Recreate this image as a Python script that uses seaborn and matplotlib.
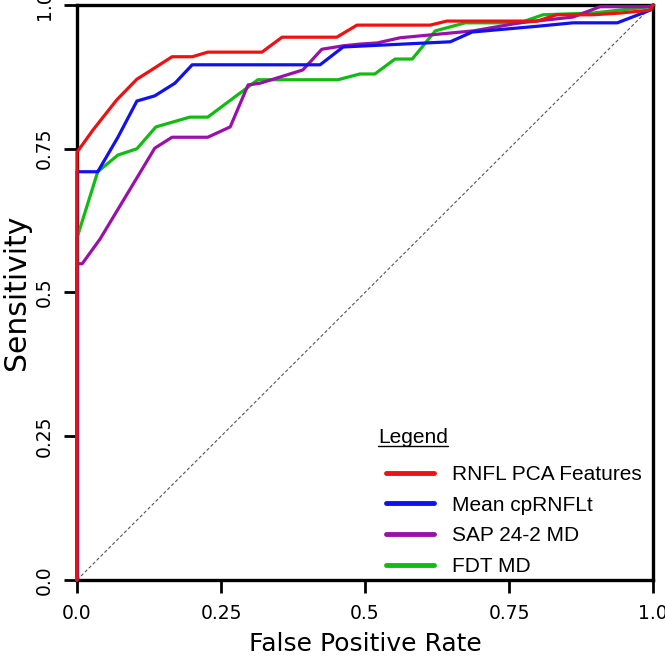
import matplotlib
matplotlib.use("Agg")
import matplotlib.pyplot as plt
import pandas as pd
import seaborn as sns
from matplotlib.lines import Line2D

# ROC curves (false positive rate, sensitivity)
rnfl_fpr = [0.0, 0.0, 0.028, 0.069, 0.104, 0.123, 0.165, 0.2, 0.227, 0.321, 0.356, 0.451,
            0.486, 0.613, 0.642, 0.799, 0.833, 0.896, 0.943, 0.995, 1.0]
rnfl_tpr = [0.0, 0.744, 0.783, 0.835, 0.871, 0.883, 0.910, 0.910, 0.918, 0.918, 0.944, 0.944,
            0.965, 0.965, 0.972, 0.972, 0.983, 0.983, 0.986, 0.991, 1.0]

mean_fpr = [0.0, 0.0, 0.036, 0.071, 0.104, 0.135, 0.170, 0.2, 0.422, 0.462, 0.648, 0.686,
            0.799, 0.861, 0.938, 0.995, 1.0]
mean_tpr = [0.0, 0.71, 0.71, 0.770, 0.833, 0.842, 0.864, 0.896, 0.896, 0.927, 0.936, 0.953,
            0.963, 0.969, 0.969, 0.991, 1.0]

sap_fpr = [0.0, 0.0, 0.009, 0.04, 0.135, 0.165, 0.227, 0.266, 0.297, 0.318, 0.392, 0.425,
           0.462, 0.491, 0.521, 0.561, 0.635, 0.688, 0.769, 0.861, 0.908, 0.995, 1.0]
sap_tpr = [0.0, 0.55, 0.55, 0.593, 0.751, 0.770, 0.770, 0.788, 0.861, 0.864, 0.887, 0.923,
           0.929, 0.932, 0.934, 0.943, 0.950, 0.955, 0.969, 0.979, 0.997, 0.997, 1.0]

fdt_fpr = [0.0, 0.0, 0.036, 0.071, 0.104, 0.137, 0.196, 0.227, 0.314, 0.453, 0.491, 0.517,
           0.552, 0.582, 0.622, 0.674, 0.769, 0.809, 0.896, 0.995, 1.0]
fdt_tpr = [0.0, 0.595, 0.71, 0.739, 0.75, 0.788, 0.805, 0.805, 0.870, 0.870, 0.880, 0.880,
           0.906, 0.906, 0.955, 0.969, 0.969, 0.983, 0.986, 0.997, 1.0]

labels = ["RNFL PCA Features", "Mean cpRNFLt", "SAP 24-2 MD", "FDT MD"]
colors = ["#ee1111", "#1111ee", "#9911aa", "#11bb11"]
tick_vals = [0, 0.25, 0.5, 0.75, 1.0]
tick_text = ["0.0", "0.25", "0.5", "0.75", "1.0"]

curves = [(rnfl_fpr, rnfl_tpr), (mean_fpr, mean_tpr), (sap_fpr, sap_tpr), (fdt_fpr, fdt_tpr)]
frames = []
for name, (fpr, tpr) in zip(labels, curves):
    frames.append(pd.DataFrame({"fpr": fpr, "tpr": tpr, "method": name}))
df = pd.concat(frames, ignore_index=True)

sns.set_style("white")
plt.rcParams["font.family"] = ["DejaVu Sans"]
plt.rcParams["text.color"] = "black"
plt.rcParams["axes.labelcolor"] = "black"
plt.rcParams["xtick.color"] = "black"
plt.rcParams["ytick.color"] = "black"

fig = plt.figure(figsize=(6.65, 6.57), dpi=100)
ax = fig.add_axes([0.1158, 0.1172, 0.8662, 0.8752])

# chance line
ax.plot([0, 1], [0, 1], linestyle=(0, (3, 2)), color="#555555", linewidth=0.8, zorder=1)

# draw in reverse so red ends up on top
sns.lineplot(data=df, x="fpr", y="tpr", hue="method", hue_order=labels[::-1],
             palette=dict(zip(labels, colors)), estimator=None, sort=False,
             linewidth=2.3, ax=ax, legend=False, zorder=3)
for line in ax.get_lines()[1:]:
    line.set_clip_on(False)

ax.set_xlim(0, 1)
ax.set_ylim(0, 1)
ax.set_xticks(tick_vals)
ax.set_yticks(tick_vals)
ax.set_xticklabels(tick_text, fontsize=13.5)
ax.set_yticklabels(tick_text, fontsize=13.5, rotation=90, va="center")
ax.tick_params(direction="out", length=9.5, width=2, pad=8, bottom=True, left=True)
ax.tick_params(axis="y", pad=7)
for sp in ax.spines.values():
    sp.set_linewidth(2.4)
    sp.set_color("black")

ax.set_xlabel("False Positive Rate", fontsize=18, labelpad=6.5)
ax.set_ylabel("Sensitivity", fontsize=21.5, labelpad=3)

# legend entries without a frame, title drawn separately so it can be underlined
handles = [Line2D([0], [0], color=c, linewidth=3.5) for c in colors]
leg = ax.legend(handles, labels, loc="upper left",
                bbox_to_anchor=((386 - 77) / 576, (580 - 465) / 575),
                frameon=False, handlelength=2.3, labelspacing=0.56,
                handletextpad=0.85, borderpad=0, borderaxespad=0,
                prop={"family": "Liberation Sans", "size": 15})

title = ax.text((378 - 77) / 576, (580 - 443) / 575, "Legend", transform=ax.transAxes,
                ha="left", va="baseline", fontsize=15, family="Liberation Sans")

fig.canvas.draw()
bb = title.get_window_extent().transformed(fig.transFigure.inverted())
fig.add_artist(Line2D([bb.x0, bb.x1], [bb.y0 + 0.001, bb.y0 + 0.001],
                      color="black", linewidth=1, transform=fig.transFigure))

fig.savefig("out.png", dpi=100)
